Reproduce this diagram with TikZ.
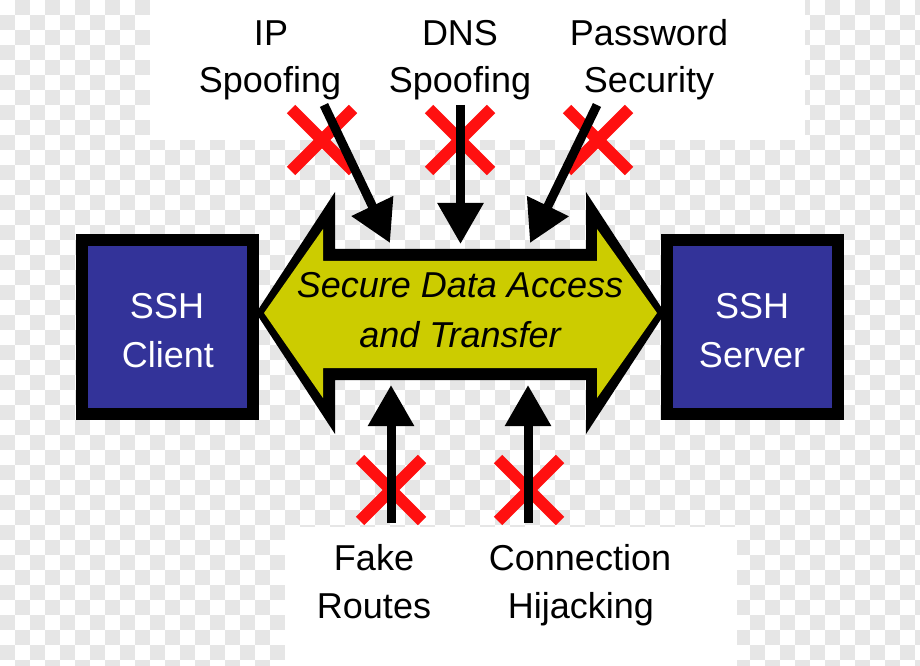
\documentclass[tikz,border=0pt]{standalone}
\usepackage{fontspec}
\setmainfont{Liberation Sans}
\usetikzlibrary{arrows.meta}
\definecolor{chk}{HTML}{E6E6E6}
\definecolor{sshblue}{HTML}{333399}
\definecolor{arrowyellow}{HTML}{CCCC00}
\definecolor{xred}{HTML}{FF1010}
\begin{document}
\begin{tikzpicture}[x=0.75pt,y=-0.75pt,
  lbl/.style={font=\fontsize{27}{32}\selectfont, anchor=base, inner sep=0pt},
  boxlbl/.style={lbl, text=white},
  arrlbl/.style={anchor=base, inner sep=0pt, font=\fontsize{27}{32}\selectfont\itshape},
  sshbox/.style={draw=black, fill=sshblue, line width=9pt, minimum width=128.25pt, minimum height=130.5pt, inner sep=0pt},
  threat/.style={line width=6.75pt, -{Triangle[length=30.75pt,width=33pt]}},
  cross/.style={draw=xred, line width=9pt}]
\useasboundingbox (0,0) rectangle (920,666);
% transparency checker background
\fill[white] (0,0) rectangle (920,666);
\foreach \i in {0,...,61}{
  \foreach \j in {0,...,44}{
    \ifodd\numexpr\i+\j\relax
      \fill[chk] (\i*15,\j*15) rectangle +(15,15);
    \fi
  }
}
\fill[white] (150,0) rectangle (805,140);
\fill[white] (285,527) rectangle (737,666);

% SSH boxes
\node[sshbox] (client) at (167.5,327) {};
\node[sshbox] (server) at (752.5,327) {};
\node[boxlbl] (clientA) at (167,319) {SSH};
\node[boxlbl] (clientB) at (168,367) {Client};
\node[boxlbl] (serverA) at (752,319) {SSH};
\node[boxlbl] (serverB) at (752,367) {Server};

% big double arrow
\fill[black] (256,313) -- (335,192) -- (335,249) -- (586,249) -- (586,192) -- (665,313)
  -- (586,434) -- (586,380) -- (335,380) -- (335,434) -- cycle;
\fill[arrowyellow] (264,313) -- (323,229) -- (323,261) -- (597,261) -- (597,229) -- (657,313)
  -- (597,398) -- (597,368) -- (323,368) -- (323,398) -- cycle;
\node[arrlbl] (secA) at (460,298) {Secure Data Access};
\node[arrlbl] (secB) at (460,347) {and Transfer};

% labels
\node[lbl] (ipA) at (271,46) {IP};
\node[lbl] (ipB) at (270,93) {Spoofing};
\node[lbl] (dnsA) at (460,46) {DNS};
\node[lbl] (dnsB) at (460,93) {Spoofing};
\node[lbl] (pwA) at (649,46) {Password};
\node[lbl] (pwB) at (649,93) {Security};
\node[lbl] (fakeA) at (374,570) {Fake};
\node[lbl] (fakeB) at (374,618) {Routes};
\node[lbl] (conA) at (580,570) {Connection};
\node[lbl] (conB) at (581,618) {Hijacking};

% connector ends
\coordinate (ipS) at (324,105);   \coordinate (ipE) at (390,243);
\coordinate (dnsS) at (460.5,105); \coordinate (dnsE) at (460.5,244);
\coordinate (pwS) at (597,105);   \coordinate (pwE) at (530,243);
\coordinate (fakeS) at (391,523); \coordinate (fakeE) at (391,385);
\coordinate (conS) at (528,523);  \coordinate (conE) at (528,385);

% red crosses
\foreach \cx/\cy in {322/140, 460/140, 598/140, 391/490, 529/490}{
  \draw[cross] (\cx-31,\cy-31) -- (\cx+31,\cy+31);
  \draw[cross] (\cx+31,\cy-31) -- (\cx-31,\cy+31);
}

% threat arrows
\draw[threat] (ipS) -- (ipE);
\draw[threat] (dnsS) -- (dnsE);
\draw[threat] (pwS) -- (pwE);
\draw[threat] (fakeS) -- (fakeE);
\draw[threat] (conS) -- (conE);
\end{tikzpicture}
\end{document}
